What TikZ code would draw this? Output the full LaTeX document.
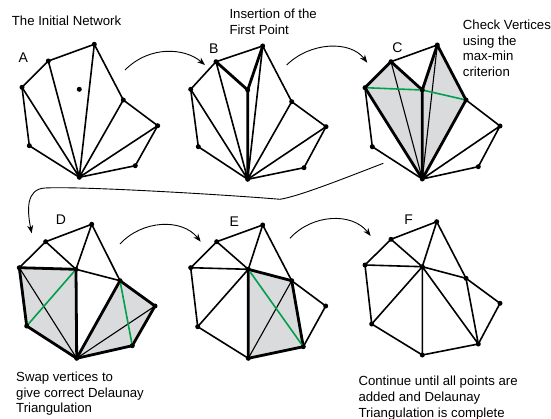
\documentclass[tikz,border=0pt]{standalone}
\usepackage{fontspec}
\setmainfont{Liberation Sans}
\usetikzlibrary{arrows.meta}
\definecolor{shade}{RGB}{218,219,221}
\definecolor{swapgreen}{RGB}{0,160,75}
\begin{document}
\begin{tikzpicture}[x=1pt,y=-1pt,
  edge/.style={line width=1.6pt, line join=round, line cap=round},
  bold/.style={line width=2.8pt, line join=round, line cap=round},
  fine/.style={line width=1.1pt, line cap=round},
  diag/.style={swapgreen, line width=1.6pt},
  flow/.style={line width=0.9pt, -{Stealth[length=8pt,width=6pt]}},
  lbl/.style={font=\fontsize{14}{16}\selectfont, inner sep=0pt},
  note/.style={font=\fontsize{13.2}{15.7}\selectfont, align=left, inner sep=0pt, anchor=base west},
  region/.style={fill=shade}]
\useasboundingbox (0,0) rectangle (551,419);

% ---------------- Panel A ----------------
\coordinate (a1) at (48.3,61);   \coordinate (a2) at (94.3,44.3);
\coordinate (a3) at (22,87.3);   \coordinate (a4) at (29.3,145.7);
\coordinate (aH) at (79.3,177.3); \coordinate (a5) at (123.3,100);
\coordinate (a6) at (157.7,125.7); \coordinate (a7) at (135.3,165.7);
\coordinate (aQ) at (79.3,89.3);
\draw[edge] (a3) -- (a1) -- (a2) -- (a5) -- (a6) -- (a7) -- (aH) -- (a4) -- cycle;
\draw[edge] (aH) -- (a3) (aH) -- (a1) (aH) -- (a2) (aH) -- (a5) (aH) -- (a6);
\foreach \p in {a1,a2,a3,a4,a5,a6,a7,aH,aQ} \fill (\p) circle (2.5pt);
\node[lbl] (labA) at (23.3,58) {A};
\node[note] (tA) at (11.7,26) {The Initial Network};

% ---------------- Panel B ----------------
\coordinate (b1) at (216,61.7);  \coordinate (b2) at (262.7,46);
\coordinate (b3) at (190.7,89.3); \coordinate (b4) at (198.3,146.7);
\coordinate (bH) at (247.7,179.3); \coordinate (b5) at (291.7,101.7);
\coordinate (b6) at (326,126.7); \coordinate (b7) at (304,167.7);
\coordinate (bQ) at (247.7,90);
\draw[edge] (b3) -- (b1) -- (b2) -- (b5) -- (b6) -- (b7) -- (bH) -- (b4) -- cycle;
\draw[edge] (bH) -- (b3) (bH) -- (b1) (bH) -- (b2) (bH) -- (b5) (bH) -- (b6);
\draw[bold] (b1) -- (bQ) -- (b2) (bQ) -- (bH);
\foreach \p in {b1,b2,b3,b4,b5,b6,b7,bH,bQ} \fill (\p) circle (2.5pt);
\node[lbl] (labB) at (213.7,49) {B};
\node[note] (tB) at (229.3,34.3) {Insertion of the\\First Point};

% ---------------- Panel C ----------------
\coordinate (c1) at (391,61.7);  \coordinate (c2) at (437.3,45);
\coordinate (c3) at (365,87.7);  \coordinate (c4) at (372.3,146.7);
\coordinate (cH) at (422.3,179); \coordinate (c5) at (466,100);
\coordinate (c6) at (500,126);   \coordinate (c7) at (478.3,166.7);
\coordinate (cQ) at (422.3,90);
\fill[region] (c3) -- (c1) -- (cQ) -- (cH) -- cycle;
\fill[region] (cQ) -- (c2) -- (c5) -- (cH) -- cycle;
\draw[edge] (c1) -- (c2) (c3) -- (c4) -- (cH) (c5) -- (c6) -- (c7) -- (cH) -- (c6);
\draw[fine] (c1) -- (cH) (c2) -- (cH);
\draw[bold] (cH) -- (c3) -- (c1) -- (cQ) -- (cH) -- (c5) -- (c2) -- (cQ);
\draw[diag] (c3) -- (cQ) -- (c5);
\foreach \p in {c1,c2,c3,c4,c5,c6,c7,cH,cQ} \fill (\p) circle (2.5pt);
\node[lbl] (labC) at (397.3,47.7) {C};
\node[note] (tC) at (462.7,76.7) {Check Vertices\\using the\\max-min\\criterion};

% ---------------- Panel D ----------------
\coordinate (d1) at (45.7,241.7); \coordinate (d2) at (91.7,224.3);
\coordinate (d3) at (19.3,267.7); \coordinate (d4) at (26.7,326);
\coordinate (dH) at (76.7,358.3); \coordinate (d5) at (120,280.7);
\coordinate (d6) at (155,306);   \coordinate (d7) at (132.3,345.7);
\coordinate (dQ) at (76,269.3);
\fill[region] (d3) -- (dQ) -- (dH) -- (d4) -- cycle;
\fill[region] (dH) -- (d5) -- (d6) -- (d7) -- cycle;
\draw[edge] (d3) -- (d1) -- (d2) -- (d5) -- (dQ) -- (d1) (d2) -- (dQ);
\draw[fine] (d3) -- (dH) -- (d6);
\draw[bold] (d3) -- (dQ) -- (dH) -- (d4) -- cycle;
\draw[bold] (dH) -- (d5) -- (d6) -- (d7) -- cycle;
\draw[diag] (dQ) -- (d4) (d5) -- (d7);
\foreach \p in {d1,d2,d3,d4,d5,d6,d7,dH,dQ} \fill (\p) circle (2.5pt);
\node[lbl] (labD) at (61,220) {D};
\node[note] (tD) at (16,412.7) {Swap vertices to\\give correct Delaunay\\Triangulation};

% ---------------- Panel E ----------------
\coordinate (e1) at (216.7,241.7); \coordinate (e2) at (262.7,225);
\coordinate (e3) at (190.7,267.7); \coordinate (e4) at (197.7,326.7);
\coordinate (eH) at (248.3,358.3); \coordinate (e5) at (291.7,280.7);
\coordinate (e6) at (325.7,306);  \coordinate (e7) at (303.3,346.7);
\coordinate (eQ) at (248.3,269.3);
\fill[region] (eQ) -- (e5) -- (e7) -- (eH) -- cycle;
\draw[edge] (e3) -- (e1) -- (e2) -- (e5) (e1) -- (eQ) -- (e2) (e3) -- (eQ) -- (e4) (e3) -- (e4) -- (eH) (e5) -- (e6) -- (e7);
\draw[fine] (eH) -- (e5);
\draw[bold] (eQ) -- (e5) -- (e7) -- (eH) -- cycle;
\draw[diag] (eQ) -- (e7);
\foreach \p in {e1,e2,e3,e4,e5,e6,e7,eH,eQ} \fill (\p) circle (2.5pt);
\node[lbl] (labE) at (234.3,222) {E};

% ---------------- Panel F ----------------
\coordinate (f1) at (391,239.3);  \coordinate (f2) at (436.7,221.7);
\coordinate (f3) at (365,265);    \coordinate (f4) at (371.7,324);
\coordinate (fH) at (422.3,355);  \coordinate (f5) at (466,278.3);
\coordinate (f6) at (500,303.3);  \coordinate (f7) at (478.3,344);
\coordinate (fQ) at (422.3,266.7);
\draw[edge] (f3) -- (f1) -- (f2) -- (f5) -- (f6) -- (f7) -- (fH) -- (f4) -- cycle;
\draw[edge] (f1) -- (fQ) -- (f2) (f3) -- (fQ) -- (f5) (fQ) -- (f4) (fQ) -- (fH) (fQ) -- (f7) -- (f5);
\foreach \p in {f1,f2,f3,f4,f5,f6,f7,fH,fQ} \fill (\p) circle (2.5pt);
\node[lbl] (labF) at (408.7,219.3) {F};
\node[note] (tF) at (358.3,417) {Continue until all points are\\added and Delaunay\\Triangulation is complete};

% ---------------- Arrows ----------------
\coordinate (sAB) at (125,70);   \coordinate (tAB) at (205,65);
\coordinate (sBC) at (286.7,65); \coordinate (tBC) at (367.3,62.7);
\coordinate (sCD) at (383.3,163.3); \coordinate (kCD) at (280,199.3); \coordinate (tCD) at (31.7,233.3);
\coordinate (sDE) at (120,244);  \coordinate (tDE) at (200.7,241.7);
\coordinate (sEF) at (290,238.3); \coordinate (tEF) at (370.7,236);
\draw[flow] (sAB) .. controls (150,45) and (185,48) .. (tAB);
\draw[flow] (sBC) .. controls (310,42) and (350,40) .. (tBC);
\draw[flow] (sCD) .. controls (345,178) and (300,196) .. (kCD) .. controls (230,195) and (80,186) .. (45,188) .. controls (26,189) and (27,210) .. (tCD);
\draw[flow] (sDE) .. controls (142,220) and (182,218) .. (tDE);
\draw[flow] (sEF) .. controls (312,214) and (352,212) .. (tEF);
\end{tikzpicture}
\end{document}
